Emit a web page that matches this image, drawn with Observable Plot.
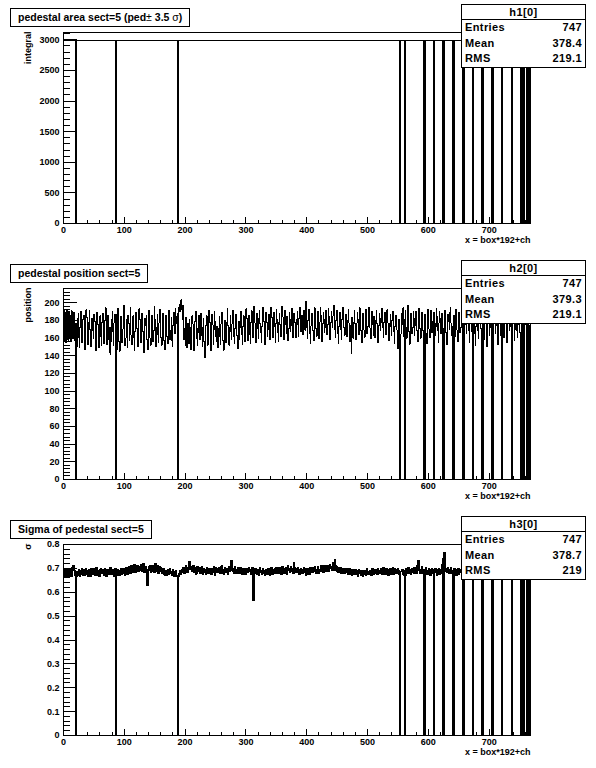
<!DOCTYPE html>
<html>
<head>
<meta charset="utf-8">
<script src="https://cdn.jsdelivr.net/npm/d3@7"></script>
<script src="https://cdn.jsdelivr.net/npm/@observablehq/plot@0.6"></script>
<style>
  html, body { margin: 0; padding: 0; background: #fff; }
  #canvas { position: relative; width: 596px; height: 768px; overflow: hidden; }
  .pad { position: relative; width: 596px; height: 256px; }
  .pad svg { display: block; }
  .ttl {
    position: absolute; left: 10px; top: 8px; height: 19px; box-sizing: border-box;
    border: 1px solid #000; background: #fff; padding: 0 7px;
    font: bold 10.5px "Liberation Sans", Arial, Helvetica, sans-serif;
    line-height: 17px; white-space: nowrap; color: #000;
  }
  .sym { font-weight: normal; }
  .stats {
    position: absolute; left: 461px; top: 4px; width: 125px; box-sizing: border-box;
    border: 1px solid #000; background: #fff; color: #000;
    font: bold 11px "Liberation Sans", Arial, Helvetica, sans-serif; letter-spacing: 0.4px;
  }
  .stats .hd { height: 14px; line-height: 14px; text-align: center; border-bottom: 1px solid #000; }
  .stats .row { display: flex; justify-content: space-between; height: 15.5px; line-height: 15.5px; padding: 0 3px 0 3px; }
</style>
</head>
<body>
<div id="canvas"></div>
<script>
// ---------------- chart text ----------------
const titles = ["pedestal area sect=5 (ped± 3.5 σ)", "pedestal position sect=5", "Sigma of pedestal sect=5"];
const histNames = ["h1[0]", "h2[0]", "h3[0]"];
const statEntries = ["747", "747", "747"];
const statMeans = ["378.4", "379.3", "378.7"];
const statRMS = ["219.1", "219.1", "219"];
const yTitles = ["integral", "position", "σ"];
const xTitle = "x = box*192+ch";

// ---------------- tick labels ----------------
const xTicks = [0, 100, 200, 300, 400, 500, 600, 700];
const areaTicks = [0, 500, 1000, 1500, 2000, 2500, 3000];
const positionTicks = [0, 20, 40, 60, 80, 100, 120, 140, 160, 180, 200];
const sigmaTicks = [0, 0.1, 0.2, 0.3, 0.4, 0.5, 0.6, 0.7, 0.8];

// dead channels that the reference draws with a single thin stroke
const thinDeadChannels = [553, 757, 762, 765, 767];

// ---------------- h1: pedestal area (bin low edge, content) ----------------
const areaSteps = [
  [0, 2990], [19, 0], [20, 2990], [85, 0], [86, 2990], [187, 0], [188, 2990],
  [553, 0], [554, 2990], [560, 0], [561, 2990], [592, 0], [593, 2990], [608, 0], [609, 2990],
  [624, 0], [625, 2990], [640, 0], [641, 2990], [656, 0], [657, 2990], [672, 0], [673, 2990],
  [688, 0], [689, 2990], [704, 0], [705, 2990], [720, 0], [721, 2990], [736, 0], [737, 2990],
  [752, 0], [753, 2990], [757, 0], [758, 2990], [762, 0], [763, 2990], [765, 0], [766, 2990],
  [767, 0], [768, 0]
];

// ---------------- h2: pedestal position, channels 0..767 ----------------
const positionValues = [
156,191,160,189,155,192,158,187,157,190,161,186,156,191,159,185,
160,189,157,0,176,158,150,182,188,161,149,172,190,176,155,167,
181,186,162,147,171,192,183,165,153,177,191,170,158,150,182,168,
174,160,187,179,152,146,166,189,175,157,149,172,185,162,151,178,
188,168,154,166,180,194,171,153,163,186,158,144,172,141,156,181,
190,167,152,177,187,0,161,147,171,193,178,156,145,165,184,173,
155,170,189,197,175,151,160,181,168,149,186,176,157,169,194,163,
153,174,185,161,146,167,180,189,171,158,150,177,193,181,163,155,
172,188,167,151,144,163,182,174,186,158,147,171,191,177,160,152,
166,185,175,156,168,196,181,159,150,172,187,164,155,177,192,171,
161,152,179,188,170,157,147,168,186,180,162,154,175,191,177,158,
168,183,157,150,174,189,178,165,193,184,176,0,188,194,198,190,
200,203,192,181,197,174,158,171,152,183,166,149,176,162,154,181,
172,147,164,185,176,153,146,168,179,190,159,171,151,166,186,175,
158,178,188,163,150,172,182,156,138,162,174,185,168,152,177,191,
178,159,146,166,187,175,153,170,190,179,162,156,173,167,149,171,
184,162,153,176,189,172,157,146,167,180,171,155,177,193,174,160,
152,172,185,167,158,176,191,177,162,154,171,187,180,163,148,168,
179,158,172,190,181,164,153,173,185,176,156,167,193,182,170,157,
174,186,164,154,178,191,173,161,182,196,177,166,155,179,188,171,
160,182,191,176,166,155,173,186,195,179,168,153,174,189,178,162,
170,187,175,158,181,195,183,171,160,178,189,173,155,176,192,181,
166,156,178,188,175,162,182,196,184,170,158,179,191,175,165,184,
176,157,171,189,181,167,174,193,183,161,170,188,178,171,160,181,
190,175,162,182,195,177,167,172,186,164,176,191,180,169,201,187,
172,160,180,192,176,165,154,174,188,179,168,157,177,194,183,171,
162,182,190,174,159,178,195,185,170,156,176,189,181,166,172,191,
182,164,175,193,184,169,158,178,190,177,172,185,197,186,170,161,
180,191,176,165,154,173,189,179,169,158,181,195,183,172,163,177,
187,175,162,180,192,177,167,156,174,143,183,171,160,178,191,176,
170,158,177,189,181,164,172,194,183,168,155,176,188,179,169,161,
182,192,177,165,173,186,195,181,171,159,178,190,175,163,184,172,
160,180,191,176,167,155,174,188,182,169,177,193,184,172,161,178,
189,175,164,181,192,177,169,157,176,187,173,163,180,190,177,167,
154,173,186,178,169,160,148,181,170,0,140,165,188,175,194,162,
0,181,191,172,160,183,197,177,167,153,175,188,179,165,172,190,
182,163,174,190,181,168,156,177,193,184,171,160,176,189,179,168,
0,173,187,178,165,154,176,192,183,170,160,180,191,175,166,179,
0,189,177,163,173,193,184,169,155,177,190,182,165,174,188,171,
0,160,180,191,176,166,153,175,187,179,170,189,195,177,163,173,
0,186,175,161,180,192,182,169,156,176,189,177,166,172,191,183,
0,170,158,178,190,175,165,182,193,177,169,155,176,188,180,167,
0,175,190,178,165,152,173,187,177,169,160,180,194,183,171,162,
0,182,171,158,177,189,180,167,150,175,186,176,163,172,192,181,
0,169,156,178,191,176,165,174,188,177,153,171,180,190,173,163,
0,177,188,171,160,181,193,178,167,155,176,189,180,169,173,191,
0,165,176,187,177,157,170,190,182,169,161,178,188,175,166,151,
0,180,191,176,167,0,175,187,177,165,0,182,171,0,174,0
];

// ---------------- h3: sigma of pedestal, channels 0..767 ----------------
const sigmaValues = [
.662,.698,.668,.694,.660,.701,.666,.692,.663,.697,.670,.689,.666,.702,.714,.706,
.710,.692,.672,0,.664,.679,.688,.670,.697,.683,.668,.691,.676,.699,.685,.672,
.681,.694,.671,.688,.699,.676,.690,.668,.684,.697,.679,.665,.689,.700,.683,.692,
.674,.698,.686,.669,.691,.703,.682,.671,.693,.680,.667,.690,.699,.678,.686,.696,
.684,.670,.692,.701,.679,.666,.688,.697,.681,.693,.674,.687,.702,.690,.676,.685,
.695,.680,.667,.689,.698,0,.671,.685,.696,.679,.690,.668,.684,.699,.687,.673,
.688,.701,.679,.692,.670,.686,.703,.690,.675,.697,.684,.709,.693,.678,.699,.712,
.697,.683,.705,.716,.694,.681,.699,.711,.688,.714,.700,.686,.707,.693,.718,.698,
.685,.703,.720,.696,.682,.701,.709,.690,.678,.627,.694,.706,.689,.712,.697,.684,
.700,.714,.693,.705,.682,.697,.722,.703,.689,.711,.695,.680,.699,.708,.687,.702,
.694,.679,.688,.701,.684,.672,.693,.686,.669,.690,.681,.695,.674,.687,.698,.678,
.689,.672,.683,.694,.677,.665,.686,.675,.691,.670,.664,0,.666,.679,.690,.676,
.692,.681,.697,.685,.704,.690,.678,.699,.710,.688,.696,.683,.702,.716,.731,.705,
.694,.707,.686,.698,.712,.692,.681,.703,.690,.676,.697,.708,.685,.693,.704,.688,
.679,.695,.706,.687,.673,.692,.700,.684,.697,.676,.689,.703,.691,.680,.696,.684,
.701,.688,.675,.694,.683,.699,.708,.686,.671,.690,.702,.693,.681,.697,.685,.704,
.692,.679,.698,.710,.687,.695,.676,.691,.705,.697,.683,.700,.689,.674,.693,.706,
.685,.699,.713,.732,.707,.689,.701,.680,.694,.708,.690,.677,.696,.686,.703,.692,
.678,.694,.704,.685,.697,.672,.689,.701,.683,.695,.674,.688,.700,.681,.693,.687,
.703,.686,.697,.676,.690,.705,.684,.564,.695,.682,.700,.679,.691,.674,.696,.687,
.671,.690,.702,.684,.693,.675,.688,.699,.680,.692,.669,.686,.697,.681,.673,.691,
.700,.683,.694,.672,.689,.703,.690,.676,.695,.685,.698,.679,.691,.704,.687,.696,
.680,.697,.705,.688,.699,.674,.692,.708,.683,.694,.677,.690,.702,.686,.675,.697,
.710,.691,.700,.681,.695,.706,.689,.698,.684,.677,.726,.703,.690,.699,.681,.694,
.705,.686,.696,.675,.691,.701,.688,.697,.679,.692,.703,.684,.698,.680,.672,.690,
.699,.684,.693,.673,.690,.702,.687,.696,.681,.689,.704,.692,.707,.686,.697,.679,
.694,.708,.690,.680,.697,.685,.701,.712,.693,.702,.684,.699,.714,.696,.705,.688,
.700,.711,.695,.686,.704,.718,.699,.709,.690,.703,.723,.701,.693,.736,.712,.697,
.689,.706,.694,.682,.697,.688,.703,.691,.679,.696,.684,.700,.687,.677,.693,.685,
.699,.682,.690,.673,.692,.701,.684,.676,.689,.670,.694,.682,.675,.688,.679,.696,
.681,.674,.690,.668,.686,.695,.677,.689,.672,.693,.680,.667,.684,.676,.691,.678,
.670,.689,.699,.681,.674,.688,.676,.693,.683,.669,.690,.698,.682,.673,.687,.695,
.697,.680,.691,.675,.701,.686,.678,.692,.684,.699,.690,.674,.696,.704,.687,.681,
.673,.692,.700,.683,.689,.670,.694,.679,.698,.686,.672,.690,.702,.684,.675,.696,
.701,.687,.678,.694,.680,.699,.692,.674,.688,0,.666,.689,.697,.681,.672,.693,
0,.671,.689,.698,.680,.686,.703,.693,.677,.690,.673,.695,.684,.700,.688,.679,
.702,.689,.695,.677,.692,.711,.733,.704,.690,.697,.679,.694,.707,.686,.680,.695,
0,.680,.697,.704,.686,.675,.692,.683,.699,.688,.671,.694,.681,.700,.692,.677,
0,.694,.701,.683,.690,.672,.696,.684,.699,.676,.689,.680,.697,.703,.717,.741,
0,.766,.722,.699,.686,.697,.681,.704,.690,.677,.694,.685,.702,.688,.679,.693,
0,.692,.700,.681,.689,.671,.694,.685,.698,.676,.690,.681,.697,.687,.673,.692,
0,.677,.695,.703,.684,.691,.670,.693,.699,.682,.688,.672,.694,.701,.683,.676,
0,.689,.697,.679,.686,.699,.684,.692,.675,.688,.696,.681,.693,.674,.690,.700,
0,.678,.694,.687,.671,.690,.701,.683,.673,.692,.680,.697,.689,.675,.695,.703,
0,.676,.691,.702,.684,.695,.672,.688,.700,.683,.676,.694,.703,.687,.679,.691,
0,.673,.690,.699,.683,.694,.670,.688,.697,.681,.675,.693,.702,.686,.677,.689,
0,.693,.701,.684,.690,.673,.695,.699,.682,.677,.696,.704,.687,.680,.672,.694,
0,.682,.698,.691,.676,0,.674,.695,.700,.683,0,.679,.688,0,.692,0
];

// ---------------- build ----------------
const NBINS = 768;
function binSteps(values) {
  const pts = values.map((v, i) => ({x: i, y: v}));
  pts.push({x: values.length, y: values[values.length - 1]});
  return pts;
}
const deadChannels = positionValues.map((v, i) => v === 0 ? i : -10).filter(i => i >= 0);
const thickDead = deadChannels.filter(c => !thinDeadChannels.includes(c));
const near = (x, list) => list.some(c => x >= c - 1 && x <= c + 1);
// second (1px-offset) stroke: only around the thick empty bins, or everywhere except the thin ones
const onlyThickDead = pts => pts.map(p => ({x: p.x, y: near(p.x, thickDead) ? p.y : NaN}));
const exceptThinDead = pts => pts.map(p => ({x: p.x, y: near(p.x, thinDeadChannels) ? NaN : p.y}));

const areaPoints = areaSteps.map(([x, y]) => ({x, y}));
const positionPoints = binSteps(positionValues);
const sigmaPoints = binSteps(sigmaValues);

const pads = [
  {points: areaPoints, thick: onlyThickDead(areaPoints), yDomain: [0, 3120], yTicks: areaTicks, yMinor: d3.range(0, 3101, 100)},
  {points: positionPoints, thick: onlyThickDead(positionPoints), yDomain: [0, 216], yTicks: positionTicks, yMinor: d3.range(0, 217, 4)},
  {points: sigmaPoints, thick: exceptThinDead(sigmaPoints), yDomain: [0, 0.8], yTicks: sigmaTicks, yMinor: d3.range(0, 0.8001, 0.02)}
];

const xMinor = d3.range(0, NBINS, 20);
const fmt = d3.format("~g");
const FONT = '"Liberation Sans", Arial, Helvetica, sans-serif';

const canvas = document.getElementById("canvas");
pads.forEach((cfg, i) => {
  const pad = document.createElement("div");
  pad.className = "pad";
  const histLine = {x: "x", y: "y", curve: "step-after", stroke: "#000", strokeWidth: 1, shapeRendering: "crispEdges"};
  const chart = Plot.plot({
    width: 596, height: 256,
    marginLeft: 63, marginRight: 66, marginTop: 32, marginBottom: 33,
    x: {domain: [0, NBINS], label: null},
    y: {domain: cfg.yDomain, label: null},
    style: {fontFamily: FONT, fontSize: "9px", fontWeight: "bold", color: "#000", background: "#fff"},
    marks: [
      Plot.line(cfg.points, histLine),
      Plot.line(cfg.thick, {...histLine, dx: 1}),
      Plot.axisX(xMinor, {tickSize: -3, tickFormat: () => "", label: null, shapeRendering: "crispEdges"}),
      Plot.axisX(xTicks, {tickSize: -6, tickFormat: () => "", label: null, shapeRendering: "crispEdges"}),
      Plot.axisX(xTicks, {tickSize: 0, tickPadding: 3, tickFormat: fmt, label: null}),
      Plot.axisY(cfg.yMinor, {tickSize: -7, tickFormat: () => "", label: null, shapeRendering: "crispEdges"}),
      Plot.axisY(cfg.yTicks, {tickSize: -14, tickFormat: () => "", label: null, shapeRendering: "crispEdges"}),
      Plot.axisY(cfg.yTicks, {tickSize: 0, tickPadding: 4, tickFormat: fmt, label: null}),
      Plot.frame({stroke: "#000", shapeRendering: "crispEdges"}),
      Plot.text([yTitles[i]], {frameAnchor: "top-left", rotate: -90, textAnchor: "end", dx: -39, dy: -1}),
      Plot.text([xTitle], {frameAnchor: "bottom-right", textAnchor: "end", dy: 19})
    ]
  });
  pad.appendChild(chart);

  const ttl = document.createElement("div");
  ttl.className = "ttl";
  ttl.innerHTML = titles[i].replace(/([±σ])/g, '<span class="sym">$1</span>');
  pad.appendChild(ttl);

  const st = document.createElement("div");
  st.className = "stats";
  st.innerHTML =
    `<div class="hd">${histNames[i]}</div>` +
    `<div class="row"><span>Entries</span><span>${statEntries[i]}</span></div>` +
    `<div class="row"><span>Mean</span><span>${statMeans[i]}</span></div>` +
    `<div class="row"><span>RMS</span><span>${statRMS[i]}</span></div>`;
  pad.appendChild(st);

  canvas.appendChild(pad);
});
</script>
</body>
</html>
